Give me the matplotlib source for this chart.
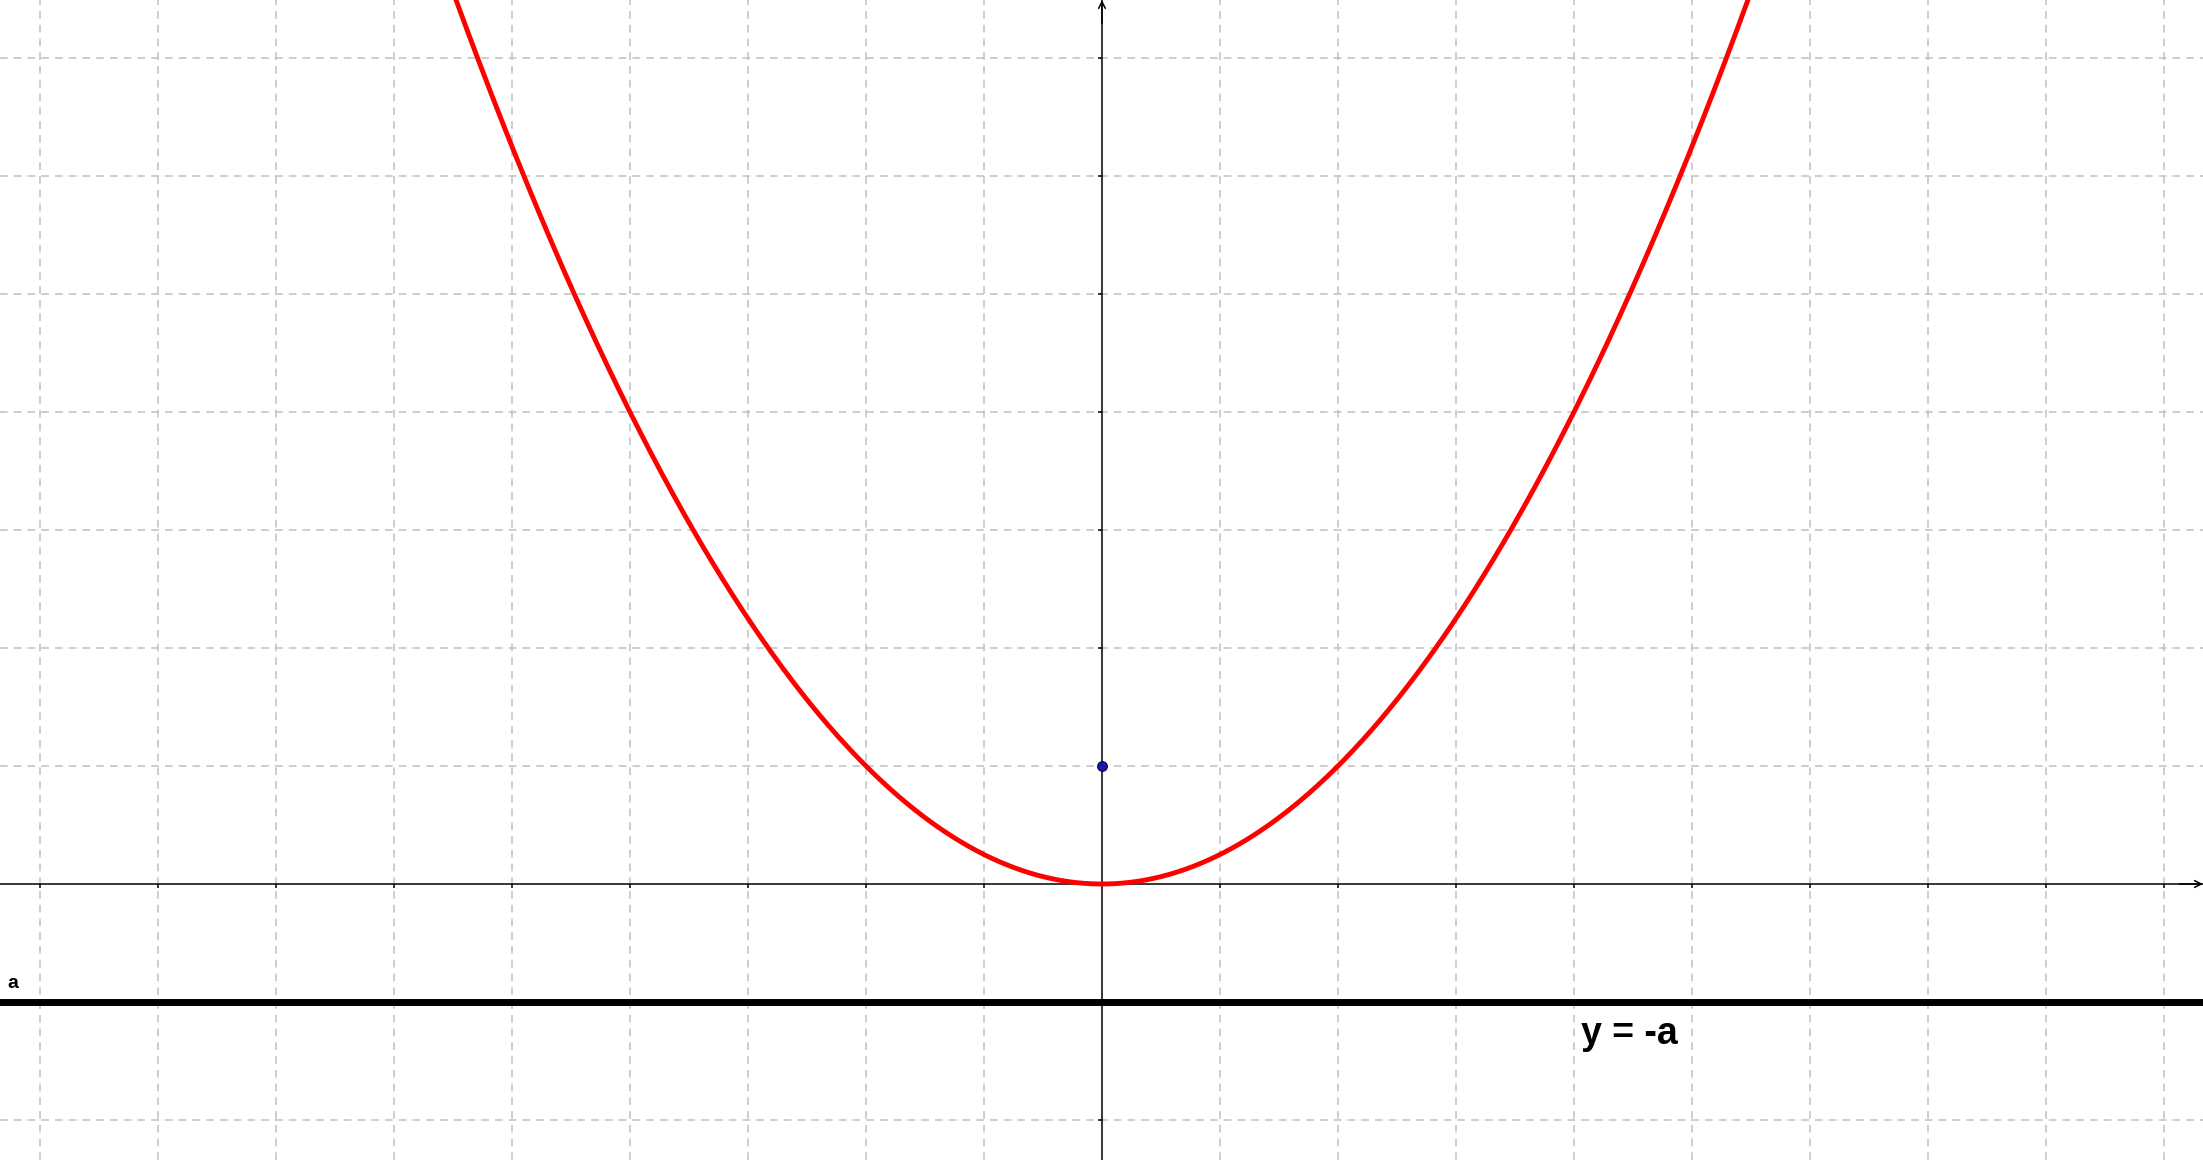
import numpy as np
import matplotlib
matplotlib.use("Agg")
import matplotlib.pyplot as plt

# Data
a = 1.0                      # focal distance
focus = (0.0, a)             # focus point
directrix_y = -a             # directrix y = -a
x_range = (-9.339, 9.331)
y_range = (-2.339, 7.492)
grid_step = 1.0
label_a = "a"
label_directrix = "y = -a"

fig = plt.figure(figsize=(22.03, 11.60), dpi=100)
ax = fig.add_axes([0, 0, 1, 1])
ax.set_xlim(*x_range)
ax.set_ylim(*y_range)

gx = np.arange(np.ceil(x_range[0]), x_range[1] + 1e-9, grid_step)
gy = np.arange(np.ceil(y_range[0]), y_range[1] + 1e-9, grid_step)
for v in gx:
    if v != 0:
        ax.axvline(v, color="#c0c0c0", lw=1.1, ls=(0, (5, 4)), zorder=1)
for v in gy:
    if v != 0:
        ax.axhline(v, color="#c0c0c0", lw=1.1, ls=(0, (5, 4)), zorder=1)

# axes via spines at zero
for s in ["top", "right"]:
    ax.spines[s].set_visible(False)
ax.spines["left"].set_position(("data", 0))
ax.spines["bottom"].set_position(("data", 0))
ax.spines["left"].set_linewidth(1.1)
ax.spines["bottom"].set_linewidth(1.1)
ax.set_xticks(gx[gx != 0])
ax.set_yticks(gy[gy != 0])
ax.tick_params(axis="both", direction="out", length=3, width=1.1,
               labelleft=False, labelbottom=False)
ax.annotate("", xy=(x_range[1], 0), xytext=(x_range[1] - 0.2, 0),
            arrowprops=dict(arrowstyle="->", lw=1.1, color="black",
                            shrinkA=0, shrinkB=0, mutation_scale=12))
ax.annotate("", xy=(0, y_range[1]), xytext=(0, y_range[1] - 0.2),
            arrowprops=dict(arrowstyle="->", lw=1.1, color="black",
                            shrinkA=0, shrinkB=0, mutation_scale=12))

# directrix
ax.axhline(directrix_y, color="black", lw=5.0, zorder=3)

# parabola
xs = np.linspace(x_range[0], x_range[1], 2000)
ax.plot(xs, xs ** 2 / (4 * a), color="#ff0000", lw=3.5, zorder=4,
        solid_capstyle="round")

# focus
ax.plot([focus[0]], [focus[1]], "o", ms=7, color="#1a1aa6",
        markeredgecolor="#000066", markeredgewidth=0.8, zorder=5)

ax.text(-9.23, -0.84, label_a, fontsize=14, fontweight="bold",
        family="Liberation Sans", ha="center", va="center")
ax.text(4.06, -1.27, label_directrix, fontsize=27, fontweight="bold",
        family="Liberation Sans", ha="left", va="center")

fig.savefig("out.png", dpi=100)
